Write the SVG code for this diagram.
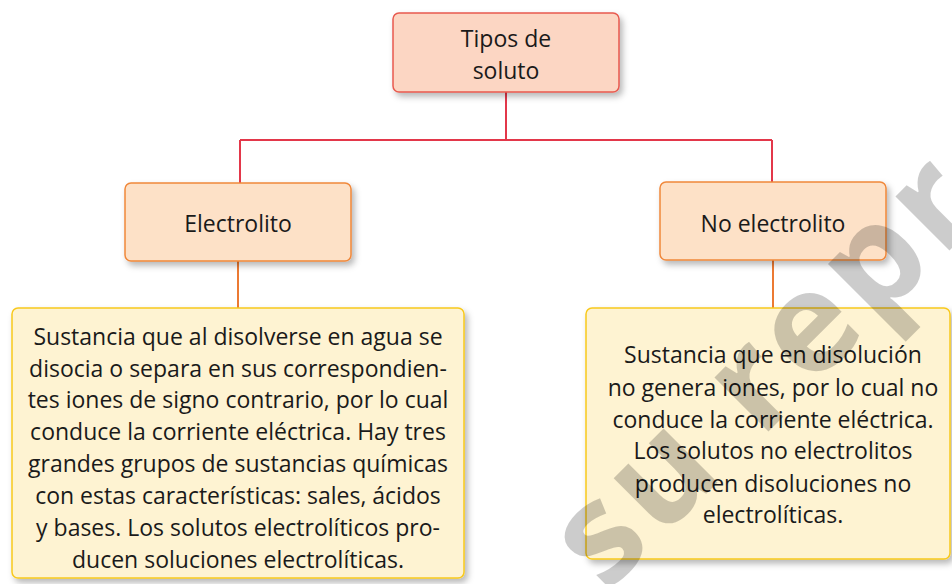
<svg xmlns="http://www.w3.org/2000/svg" width="952" height="584" viewBox="0 0 952 584">
<defs>
<filter id="sh" x="-10%" y="-10%" width="125%" height="130%">
<feDropShadow dx="3" dy="4" stdDeviation="3" flood-color="#000" flood-opacity="0.28"/>
</filter>
<style>
.t{font-family:"Open Sans","Noto Sans","DejaVu Sans",sans-serif;font-size:23px;fill:#1a1a1a;text-anchor:middle}
.top{fill:#fcd6c3;stroke:#e85a4f;stroke-width:1.5}
.mid{fill:#fde1c7;stroke:#f0883a;stroke-width:1.5}
.desc{fill:#fef3d2;stroke:#f8c91e;stroke-width:1.5}
.red{stroke:#e3374a;stroke-width:2;fill:none}
.org{stroke:#ec7a33;stroke-width:2;fill:none}
.wm{font-family:"Open Sans","DejaVu Sans",sans-serif;font-weight:bold;font-size:140px;letter-spacing:7px;fill:#000;fill-opacity:0.2}
</style>
</defs>
<rect width="952" height="584" fill="#fff"/>
<g id="connectors">
<path class="red" d="M506 92V140M240 140H772M240 140V183M772 140V182"/>
<path class="org" d="M238 261V308M773 260V308"/>
</g>
<g id="tipos">
<rect class="top" x="393" y="13" width="226" height="79" rx="6" filter="url(#sh)"/>
<text class="t" x="506" y="47">Tipos de</text>
<text class="t" x="506" y="79">soluto</text>
</g>
<g id="electrolito">
<rect class="mid" x="125" y="183" width="226" height="78" rx="6" filter="url(#sh)"/>
<text class="t" x="238" y="232">Electrolito</text>
</g>
<g id="noelectrolito">
<rect class="mid" x="660" y="182" width="226" height="78" rx="6" filter="url(#sh)"/>
<text class="t" x="773" y="232">No electrolito</text>
</g>
<g id="desc-electrolito">
<rect class="desc" x="12" y="308" width="452" height="270" rx="6" filter="url(#sh)"/>
<text class="t" x="238" y="345">Sustancia que al disolverse en agua se</text>
<text class="t" x="238" y="377">disocia o separa en sus correspondien-</text>
<text class="t" x="238" y="408">tes iones de signo contrario, por lo cual</text>
<text class="t" x="238" y="440">conduce la corriente eléctrica. Hay tres</text>
<text class="t" x="238" y="472">grandes grupos de sustancias químicas</text>
<text class="t" x="238" y="504">con estas características: sales, ácidos</text>
<text class="t" x="238" y="536">y bases. Los solutos electrolíticos pro-</text>
<text class="t" x="238" y="568">ducen soluciones electrolíticas.</text>
</g>
<g id="desc-noelectrolito">
<rect class="desc" x="586" y="308" width="364" height="251" rx="6" filter="url(#sh)"/>
<text class="t" x="773" y="363">Sustancia que en disolución</text>
<text class="t" x="773" y="396">no genera iones, por lo cual no</text>
<text class="t" x="773" y="428">conduce la corriente eléctrica.</text>
<text class="t" x="773" y="459">Los solutos no electrolitos</text>
<text class="t" x="773" y="492">producen disoluciones no</text>
<text class="t" x="773" y="523">electrolíticas.</text>
</g>
<text class="wm" x="606" y="594" transform="rotate(-45 606 594)">su repr</text>
</svg>
